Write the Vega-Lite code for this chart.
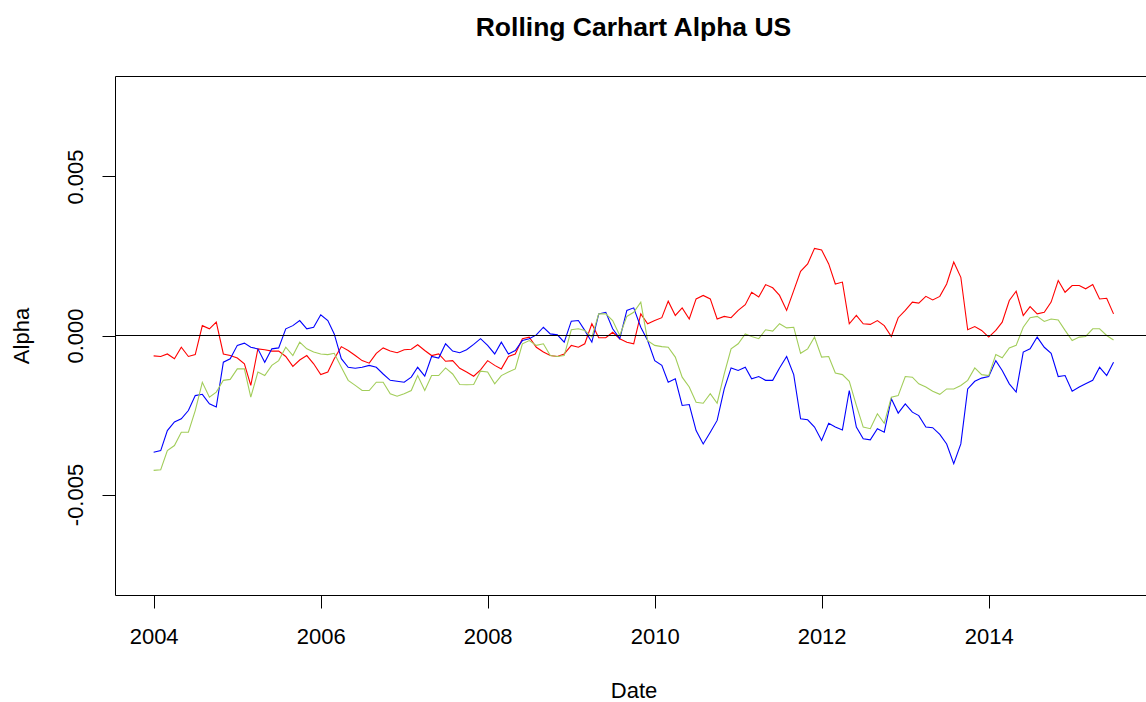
{
"$schema": "https://vega.github.io/schema/vega-lite/v6.json",
"width": 1031, "height": 519,
"autosize": {"type": "none"},
"padding": {"left": 115, "top": 76, "right": 0, "bottom": 107},
"background": "white",
"config": {"view": {"stroke": "black", "strokeWidth": 1}, "font": "Liberation Sans"},
"title": {"text": "Rolling Carhart Alpha US", "fontSize": 26.5, "fontWeight": "bold", "color": "black", "font": "Liberation Sans", "anchor": "middle", "frame": "group", "baseline": "alphabetic", "offset": 14, "dx": 3},
"data": {"values": [
{"d":"2004-01-01","S1":-0.00064,"S2":-0.00367,"S3":-0.00424},
{"d":"2004-02-01","S1":-0.00066,"S2":-0.00362,"S3":-0.00422},
{"d":"2004-03-01","S1":-0.00058,"S2":-0.00299,"S3":-0.00362},
{"d":"2004-04-01","S1":-0.00073,"S2":-0.00272,"S3":-0.00346},
{"d":"2004-05-01","S1":-0.00037,"S2":-0.00262,"S3":-0.00304},
{"d":"2004-06-01","S1":-0.00066,"S2":-0.00236,"S3":-0.00304},
{"d":"2004-07-01","S1":-0.00060,"S2":-0.00189,"S3":-0.00236},
{"d":"2004-08-01","S1":0.00031,"S2":-0.00185,"S3":-0.00147},
{"d":"2004-09-01","S1":0.00021,"S2":-0.00215,"S3":-0.00194},
{"d":"2004-10-01","S1":0.00042,"S2":-0.00225,"S3":-0.00178},
{"d":"2004-11-01","S1":-0.00058,"S2":-0.00084,"S3":-0.00141},
{"d":"2004-12-01","S1":-0.00063,"S2":-0.00073,"S3":-0.00138},
{"d":"2005-01-01","S1":-0.00071,"S2":-0.00031,"S3":-0.00105},
{"d":"2005-02-01","S1":-0.00089,"S2":-0.00024,"S3":-0.00105},
{"d":"2005-03-01","S1":-0.00157,"S2":-0.00037,"S3":-0.00194},
{"d":"2005-04-01","S1":-0.00042,"S2":-0.00042,"S3":-0.00115},
{"d":"2005-05-01","S1":-0.00045,"S2":-0.00084,"S3":-0.00126},
{"d":"2005-06-01","S1":-0.00049,"S2":-0.00042,"S3":-0.00094},
{"d":"2005-07-01","S1":-0.00049,"S2":-0.00039,"S3":-0.00079},
{"d":"2005-08-01","S1":-0.00066,"S2":0.00021,"S3":-0.00037},
{"d":"2005-09-01","S1":-0.00097,"S2":0.00031,"S3":-0.00063},
{"d":"2005-10-01","S1":-0.00077,"S2":0.00047,"S3":-0.00021},
{"d":"2005-11-01","S1":-0.00063,"S2":0.00021,"S3":-0.00042},
{"d":"2005-12-01","S1":-0.00089,"S2":0.00026,"S3":-0.00052},
{"d":"2006-01-01","S1":-0.00123,"S2":0.00065,"S3":-0.00058},
{"d":"2006-02-01","S1":-0.00115,"S2":0.00047,"S3":-0.00060},
{"d":"2006-03-01","S1":-0.00073,"S2":0.00005,"S3":-0.00056},
{"d":"2006-04-01","S1":-0.00035,"S2":-0.00073,"S3":-0.00100},
{"d":"2006-05-01","S1":-0.00047,"S2":-0.00100,"S3":-0.00141},
{"d":"2006-06-01","S1":-0.00063,"S2":-0.00103,"S3":-0.00157},
{"d":"2006-07-01","S1":-0.00079,"S2":-0.00100,"S3":-0.00173},
{"d":"2006-08-01","S1":-0.00087,"S2":-0.00094,"S3":-0.00173},
{"d":"2006-09-01","S1":-0.00056,"S2":-0.00100,"S3":-0.00147},
{"d":"2006-10-01","S1":-0.00039,"S2":-0.00121,"S3":-0.00147},
{"d":"2006-11-01","S1":-0.00049,"S2":-0.00141,"S3":-0.00183},
{"d":"2006-12-01","S1":-0.00054,"S2":-0.00144,"S3":-0.00191},
{"d":"2007-01-01","S1":-0.00045,"S2":-0.00147,"S3":-0.00183},
{"d":"2007-02-01","S1":-0.00043,"S2":-0.00131,"S3":-0.00173},
{"d":"2007-03-01","S1":-0.00029,"S2":-0.00100,"S3":-0.00126},
{"d":"2007-04-01","S1":-0.00047,"S2":-0.00128,"S3":-0.00173},
{"d":"2007-05-01","S1":-0.00063,"S2":-0.00066,"S3":-0.00126},
{"d":"2007-06-01","S1":-0.00058,"S2":-0.00071,"S3":-0.00126},
{"d":"2007-07-01","S1":-0.00081,"S2":-0.00026,"S3":-0.00102},
{"d":"2007-08-01","S1":-0.00079,"S2":-0.00049,"S3":-0.00121},
{"d":"2007-09-01","S1":-0.00103,"S2":-0.00054,"S3":-0.00154},
{"d":"2007-10-01","S1":-0.00115,"S2":-0.00045,"S3":-0.00155},
{"d":"2007-11-01","S1":-0.00128,"S2":-0.00028,"S3":-0.00154},
{"d":"2007-12-01","S1":-0.00108,"S2":-0.00010,"S3":-0.00112},
{"d":"2008-01-01","S1":-0.00079,"S2":-0.00031,"S3":-0.00115},
{"d":"2008-02-01","S1":-0.00094,"S2":-0.00058,"S3":-0.00152},
{"d":"2008-03-01","S1":-0.00105,"S2":-0.00021,"S3":-0.00126},
{"d":"2008-04-01","S1":-0.00066,"S2":-0.00058,"S3":-0.00115},
{"d":"2008-05-01","S1":-0.00058,"S2":-0.00047,"S3":-0.00105},
{"d":"2008-06-01","S1":-0.00010,"S2":-0.00016,"S3":-0.00026},
{"d":"2008-07-01","S1":-0.00005,"S2":-0.00010,"S3":-0.00016},
{"d":"2008-08-01","S1":-0.00037,"S2":0.00002,"S3":-0.00031},
{"d":"2008-09-01","S1":-0.00052,"S2":0.00026,"S3":-0.00026},
{"d":"2008-10-01","S1":-0.00063,"S2":0.00005,"S3":-0.00063},
{"d":"2008-11-01","S1":-0.00066,"S2":0.00002,"S3":-0.00066},
{"d":"2008-12-01","S1":-0.00058,"S2":-0.00021,"S3":-0.00063},
{"d":"2009-01-01","S1":-0.00031,"S2":0.00045,"S3":0.00018},
{"d":"2009-02-01","S1":-0.00037,"S2":0.00047,"S3":0.00021},
{"d":"2009-03-01","S1":-0.00026,"S2":0.00016,"S3":0.00016},
{"d":"2009-04-01","S1":0.00037,"S2":-0.00021,"S3":-0.00005},
{"d":"2009-05-01","S1":-0.00007,"S2":0.00068,"S3":0.00068},
{"d":"2009-06-01","S1":-0.00007,"S2":0.00073,"S3":0.00068},
{"d":"2009-07-01","S1":0.00010,"S2":0.00021,"S3":0.00047},
{"d":"2009-08-01","S1":-0.00010,"S2":-0.00010,"S3":0.00000},
{"d":"2009-09-01","S1":-0.00021,"S2":0.00079,"S3":0.00060},
{"d":"2009-10-01","S1":-0.00026,"S2":0.00087,"S3":0.00073},
{"d":"2009-11-01","S1":0.00068,"S2":0.00026,"S3":0.00105},
{"d":"2009-12-01","S1":0.00037,"S2":-0.00016,"S3":-0.00016},
{"d":"2010-01-01","S1":0.00047,"S2":-0.00079,"S3":-0.00031},
{"d":"2010-02-01","S1":0.00056,"S2":-0.00094,"S3":-0.00035},
{"d":"2010-03-01","S1":0.00108,"S2":-0.00147,"S3":-0.00037},
{"d":"2010-04-01","S1":0.00063,"S2":-0.00136,"S3":-0.00068},
{"d":"2010-05-01","S1":0.00087,"S2":-0.00220,"S3":-0.00131},
{"d":"2010-06-01","S1":0.00052,"S2":-0.00217,"S3":-0.00162},
{"d":"2010-07-01","S1":0.00115,"S2":-0.00299,"S3":-0.00210},
{"d":"2010-08-01","S1":0.00126,"S2":-0.00341,"S3":-0.00213},
{"d":"2010-09-01","S1":0.00115,"S2":-0.00304,"S3":-0.00183},
{"d":"2010-10-01","S1":0.00052,"S2":-0.00267,"S3":-0.00213},
{"d":"2010-11-01","S1":0.00060,"S2":-0.00168,"S3":-0.00121},
{"d":"2010-12-01","S1":0.00056,"S2":-0.00102,"S3":-0.00042},
{"d":"2011-01-01","S1":0.00079,"S2":-0.00110,"S3":-0.00026},
{"d":"2011-02-01","S1":0.00097,"S2":-0.00100,"S3":0.00005},
{"d":"2011-03-01","S1":0.00136,"S2":-0.00136,"S3":-0.00003},
{"d":"2011-04-01","S1":0.00121,"S2":-0.00129,"S3":-0.00010},
{"d":"2011-05-01","S1":0.00160,"S2":-0.00141,"S3":0.00018},
{"d":"2011-06-01","S1":0.00150,"S2":-0.00141,"S3":0.00014},
{"d":"2011-07-01","S1":0.00126,"S2":-0.00102,"S3":0.00037},
{"d":"2011-08-01","S1":0.00079,"S2":-0.00066,"S3":0.00024},
{"d":"2011-09-01","S1":0.00141,"S2":-0.00123,"S3":0.00026},
{"d":"2011-10-01","S1":0.00202,"S2":-0.00262,"S3":-0.00056},
{"d":"2011-11-01","S1":0.00225,"S2":-0.00265,"S3":-0.00042},
{"d":"2011-12-01","S1":0.00274,"S2":-0.00288,"S3":-0.00005},
{"d":"2012-01-01","S1":0.00269,"S2":-0.00330,"S3":-0.00068},
{"d":"2012-02-01","S1":0.00225,"S2":-0.00276,"S3":-0.00066},
{"d":"2012-03-01","S1":0.00162,"S2":-0.00288,"S3":-0.00118},
{"d":"2012-04-01","S1":0.00168,"S2":-0.00297,"S3":-0.00123},
{"d":"2012-05-01","S1":0.00037,"S2":-0.00173,"S3":-0.00144},
{"d":"2012-06-01","S1":0.00063,"S2":-0.00288,"S3":-0.00220},
{"d":"2012-07-01","S1":0.00037,"S2":-0.00325,"S3":-0.00288},
{"d":"2012-08-01","S1":0.00035,"S2":-0.00328,"S3":-0.00293},
{"d":"2012-09-01","S1":0.00047,"S2":-0.00293,"S3":-0.00246},
{"d":"2012-10-01","S1":0.00031,"S2":-0.00304,"S3":-0.00276},
{"d":"2012-11-01","S1":-0.00003,"S2":-0.00199,"S3":-0.00194},
{"d":"2012-12-01","S1":0.00056,"S2":-0.00244,"S3":-0.00189},
{"d":"2013-01-01","S1":0.00079,"S2":-0.00215,"S3":-0.00129},
{"d":"2013-02-01","S1":0.00105,"S2":-0.00241,"S3":-0.00131},
{"d":"2013-03-01","S1":0.00102,"S2":-0.00252,"S3":-0.00152},
{"d":"2013-04-01","S1":0.00123,"S2":-0.00288,"S3":-0.00162},
{"d":"2013-05-01","S1":0.00112,"S2":-0.00290,"S3":-0.00175},
{"d":"2013-06-01","S1":0.00123,"S2":-0.00311,"S3":-0.00185},
{"d":"2013-07-01","S1":0.00162,"S2":-0.00341,"S3":-0.00168},
{"d":"2013-08-01","S1":0.00231,"S2":-0.00403,"S3":-0.00168},
{"d":"2013-09-01","S1":0.00183,"S2":-0.00341,"S3":-0.00157},
{"d":"2013-10-01","S1":0.00018,"S2":-0.00168,"S3":-0.00141},
{"d":"2013-11-01","S1":0.00028,"S2":-0.00144,"S3":-0.00102},
{"d":"2013-12-01","S1":0.00016,"S2":-0.00134,"S3":-0.00123},
{"d":"2014-01-01","S1":-0.00005,"S2":-0.00129,"S3":-0.00126},
{"d":"2014-02-01","S1":0.00016,"S2":-0.00079,"S3":-0.00060},
{"d":"2014-03-01","S1":0.00042,"S2":-0.00110,"S3":-0.00070},
{"d":"2014-04-01","S1":0.00110,"S2":-0.00152,"S3":-0.00039},
{"d":"2014-05-01","S1":0.00139,"S2":-0.00178,"S3":-0.00031},
{"d":"2014-06-01","S1":0.00063,"S2":-0.00052,"S3":0.00026},
{"d":"2014-07-01","S1":0.00091,"S2":-0.00042,"S3":0.00056},
{"d":"2014-08-01","S1":0.00068,"S2":-0.00005,"S3":0.00060},
{"d":"2014-09-01","S1":0.00073,"S2":-0.00037,"S3":0.00044},
{"d":"2014-10-01","S1":0.00105,"S2":-0.00056,"S3":0.00052},
{"d":"2014-11-01","S1":0.00173,"S2":-0.00129,"S3":0.00049},
{"d":"2014-12-01","S1":0.00136,"S2":-0.00126,"S3":0.00016},
{"d":"2015-01-01","S1":0.00157,"S2":-0.00175,"S3":-0.00016},
{"d":"2015-02-01","S1":0.00157,"S2":-0.00162,"S3":-0.00005},
{"d":"2015-03-01","S1":0.00147,"S2":-0.00152,"S3":-0.00003},
{"d":"2015-04-01","S1":0.00160,"S2":-0.00141,"S3":0.00021},
{"d":"2015-05-01","S1":0.00115,"S2":-0.00100,"S3":0.00021},
{"d":"2015-06-01","S1":0.00117,"S2":-0.00126,"S3":0.00000},
{"d":"2015-07-01","S1":0.00068,"S2":-0.00084,"S3":-0.00014}
]},
"layer": [
{
"transform": [{"fold": ["S1", "S2", "S3"], "as": ["series", "alpha"]}],
"mark": {"type": "line", "strokeWidth": 1.1, "interpolate": "linear"},
"encoding": {
"x": {"field": "d", "type": "temporal",
"scale": {"type": "utc", "domain": [{"year": 2003, "month": 7, "date": 16, "utc": true}, {"year": 2015, "month": 11, "date": 20, "utc": true}], "nice": false},
"axis": {"values": [{"year": 2004, "utc": true}, {"year": 2006, "utc": true}, {"year": 2008, "utc": true}, {"year": 2010, "utc": true}, {"year": 2012, "utc": true}, {"year": 2014, "utc": true}],
"format": "%Y", "formatType": "utc", "grid": false, "domain": false, "ticks": true, "tickSize": 13, "tickColor": "black", "tickWidth": 1,
"labelFontSize": 22, "labelColor": "black", "labelPadding": 35.5, "labelBaseline": "alphabetic", "labelAlign": "center", "labelFlush": false, "labelOverlap": false, "labelFont": "Liberation Sans",
"title": "Date", "titleFontSize": 22, "titleFontWeight": "normal", "titleColor": "black", "titleFont": "Liberation Sans", "titleX": 518.5, "titleY": 102.5, "titleBaseline": "alphabetic", "titleAlign": "center"}},
"y": {"field": "alpha", "type": "quantitative",
"scale": {"domain": [-0.00816, 0.00816], "nice": false, "zero": false},
"axis": {"values": [-0.005, 0, 0.005], "labelExpr": "replace(format(datum.value, '.3f'), '\u2212', '-')", "grid": false, "domain": false, "tickSize": 13, "tickColor": "black", "tickWidth": 1,
"labelFontSize": 22, "labelColor": "black", "labelAngle": 270, "labelAlign": "center", "labelBaseline": "alphabetic", "labelPadding": 20, "labelFont": "Liberation Sans", "labelFlush": false, "labelOverlap": false,
"title": "Alpha", "titleFontSize": 22, "titleFontWeight": "normal", "titleColor": "black", "titleFont": "Liberation Sans", "titleAngle": 270, "titleX": -87, "titleY": 259.5, "titleAlign": "center", "titleBaseline": "alphabetic"}},
"color": {"field": "series", "type": "nominal", "scale": {"domain": ["S1", "S2", "S3"], "range": ["#FF0000", "#0000FF", "#A2CD5A"]}, "legend": null}
}
},
{
"data": {"values": [{}]},
"mark": {"type": "rule", "color": "black", "strokeWidth": 1.2},
"encoding": {"y": {"datum": 0}}
}
]
}
